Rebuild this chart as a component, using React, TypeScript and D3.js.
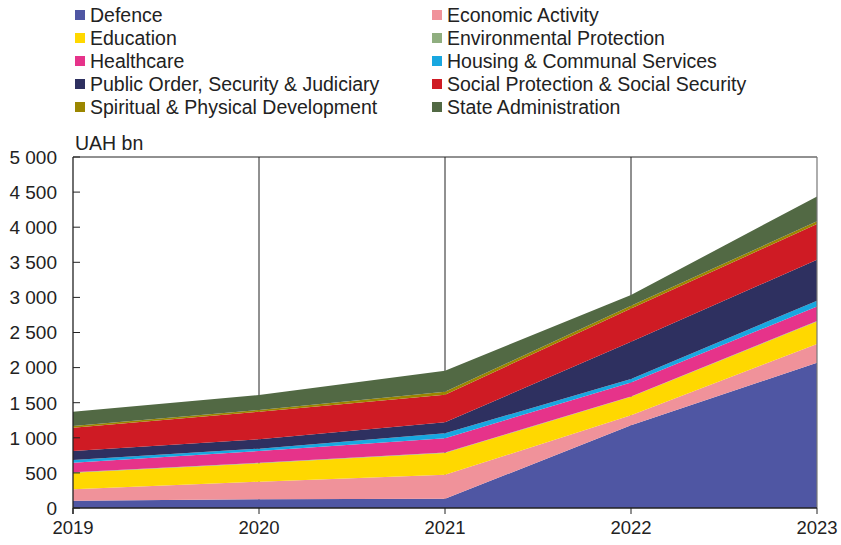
import React from "react";
import * as d3 from "d3";

const years = [2019, 2020, 2021, 2022, 2023];
const seriesNames = [
  "Defence",
  "Economic Activity",
  "Education",
  "Environmental Protection",
  "Healthcare",
  "Housing & Communal Services",
  "Public Order, Security & Judiciary",
  "Social Protection & Social Security",
  "Spiritual & Physical Development",
  "State Administration",
];
const defence = [105, 124, 130, 1180, 2070];
const economicActivity = [161, 251, 342, 143, 266];
const education = [237, 262, 312, 260, 322];
const environmentalProtection = [6, 7, 7, 5, 7];
const healthcare = [136, 168, 204, 200, 207];
const housing = [39, 33, 70, 49, 81];
const publicOrder = [128, 134, 155, 531, 584];
const socialProtection = [332, 393, 392, 474, 508];
const spiritual = [24, 25, 43, 39, 38];
const stateAdministration = [204, 213, 301, 152, 356];
const yTicks = [0, 500, 1000, 1500, 2000, 2500, 3000, 3500, 4000, 4500, 5000];
const colors = [
  "#4f56a3",
  "#f0929a",
  "#ffd800",
  "#8fae7f",
  "#e6338a",
  "#18a7e0",
  "#2e3060",
  "#cf1b24",
  "#9b8600",
  "#526944",
];

const allSeries = [
  defence,
  economicActivity,
  education,
  environmentalProtection,
  healthcare,
  housing,
  publicOrder,
  socialProtection,
  spiritual,
  stateAdministration,
];

export default function App() {
  const W = 841;
  const H = 545;
  const left = 73;
  const right = 817;
  const top = 157;
  const bottom = 508;
  const font = "'Liberation Sans', Arial, sans-serif";

  const x = d3.scaleLinear().domain([2019, 2023]).range([left, right]);
  const y = d3.scaleLinear().domain([0, 5000]).range([bottom, top]);

  const table = years.map((yr, i) => {
    const row: Record<string, number> = { year: yr };
    seriesNames.forEach((n, j) => (row[n] = allSeries[j][i]));
    return row;
  });
  const stacked = d3.stack<Record<string, number>>().keys(seriesNames)(table);
  const area = d3
    .area<d3.SeriesPoint<Record<string, number>>>()
    .x((d) => x(d.data.year))
    .y0((d) => y(d[0]))
    .y1((d) => y(d[1]));

  const fmt = (v: number) => {
    const s = String(v);
    return s.length > 3 ? s.slice(0, s.length - 3) + " " + s.slice(-3) : s;
  };

  const legendCols = [75, 432];
  const legendRows = [15, 38, 61, 84, 107];

  return (
    <svg
      width={W}
      height={H}
      style={{ position: "absolute", left: 0, top: 0, background: "#fff" }}
      fontFamily={font}
    >
      {years.slice(1, 4).map((yr) => (
        <line key={yr} x1={x(yr)} x2={x(yr)} y1={top} y2={bottom} stroke="#222" strokeWidth={1} />
      ))}
      {stacked.map((s, i) => (
        <path key={s.key} d={area(s) || ""} fill={colors[i]} />
      ))}
      <line x1={left} x2={right} y1={top} y2={top} stroke="#222" strokeWidth={1} />
      <line x1={right} x2={right} y1={top} y2={bottom} stroke="#777" strokeWidth={1.2} />
      <line x1={left} x2={left} y1={top} y2={bottom + 6} stroke="#222" strokeWidth={1.3} />
      <line x1={left} x2={right} y1={bottom} y2={bottom} stroke="#222" strokeWidth={1.3} />
      {yTicks.map((t) => (
        <g key={t}>
          <line x1={left} x2={left + 7} y1={y(t)} y2={y(t)} stroke="#222" strokeWidth={1} />
          <text x={57} y={y(t)} dy="0.36em" textAnchor="end" fontSize={19} fill="#222">
            {fmt(t)}
          </text>
        </g>
      ))}
      {years.map((yr) => (
        <g key={yr}>
          <line x1={x(yr)} x2={x(yr)} y1={bottom} y2={bottom + 6} stroke="#222" strokeWidth={1} />
          <text x={x(yr)} y={534} textAnchor="middle" fontSize={18.5} fill="#222">
            {yr}
          </text>
        </g>
      ))}
      <text x={75} y={150} fontSize={19.5} fill="#222">
        UAH bn
      </text>
      {seriesNames.map((n, i) => {
        const col = i % 2;
        const row = Math.floor(i / 2);
        const lx = legendCols[col];
        const ly = legendRows[row];
        return (
          <g key={n}>
            <rect x={lx} y={ly - 5} width={10} height={10} fill={colors[i]} />
            <text x={lx + 15} y={ly} dy="0.36em" fontSize={19.5} fill="#222">
              {n}
            </text>
          </g>
        );
      })}
    </svg>
  );
}
